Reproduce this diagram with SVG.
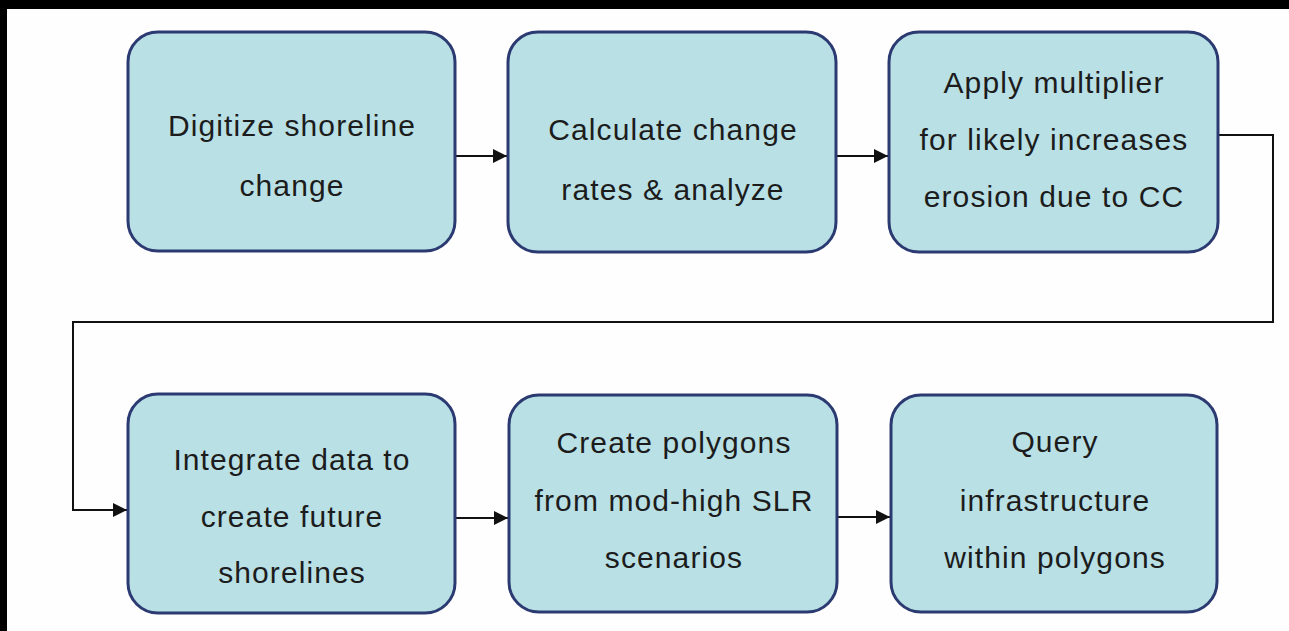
<svg xmlns="http://www.w3.org/2000/svg" width="1289" height="631" viewBox="0 0 1289 631">
<style>
.box{fill:#b9e0e5;stroke:#2c3a72;stroke-width:3}
.t{font-family:"Liberation Sans",Arial,sans-serif;font-size:30px;letter-spacing:1.1px;fill:#1c1c1c;text-anchor:middle}
.c{fill:none;stroke:#111;stroke-width:2}
</style>
<defs>
<marker id="arr" markerWidth="14" markerHeight="14" viewBox="0 0 14 14" refX="14" refY="7" orient="auto" markerUnits="userSpaceOnUse">
<path d="M0,0 L14,7 L0,14 Z" fill="#111"/>
</marker>
</defs>
<rect x="0" y="0" width="1289" height="631" fill="#fefefe"/>
<rect x="0" y="0" width="1289" height="9" fill="#000"/>
<rect x="0" y="0" width="7" height="631" fill="#000"/>
<g id="connectors">
<path class="c" d="M455,156 L507,156" marker-end="url(#arr)"/>
<path class="c" d="M836,156 L888,156" marker-end="url(#arr)"/>
<path class="c" d="M1218,135 L1273,135 L1273,322 L73,322 L73,510 L127,510" marker-end="url(#arr)"/>
<path class="c" d="M455,518 L508,518" marker-end="url(#arr)"/>
<path class="c" d="M837,517 L890,517" marker-end="url(#arr)"/>
</g>
<g id="n1">
<rect class="box" x="128" y="32" width="327" height="219" rx="30"/>
<text class="t" x="292" y="136">Digitize shoreline</text>
<text class="t" x="292" y="196">change</text>
</g>
<g id="n2">
<rect class="box" x="508" y="32" width="328" height="220" rx="30"/>
<text class="t" x="673" y="140">Calculate change</text>
<text class="t" x="673" y="200">rates &amp; analyze</text>
</g>
<g id="n3">
<rect class="box" x="889" y="32" width="329" height="220" rx="30"/>
<text class="t" x="1054" y="93">Apply multiplier</text>
<text class="t" x="1054" y="150">for likely increases</text>
<text class="t" x="1054" y="207">erosion due to CC</text>
</g>
<g id="n4">
<rect class="box" x="128" y="394" width="327" height="219" rx="30"/>
<text class="t" x="292" y="470">Integrate data to</text>
<text class="t" x="292" y="527">create future</text>
<text class="t" x="292" y="583">shorelines</text>
</g>
<g id="n5">
<rect class="box" x="509" y="395" width="328" height="217" rx="30"/>
<text class="t" x="674" y="453">Create polygons</text>
<text class="t" x="674" y="511">from mod-high SLR</text>
<text class="t" x="674" y="568">scenarios</text>
</g>
<g id="n6">
<rect class="box" x="891" y="395" width="326" height="217" rx="30"/>
<text class="t" x="1055" y="452">Query</text>
<text class="t" x="1055" y="511">infrastructure</text>
<text class="t" x="1055" y="568">within polygons</text>
</g>
</svg>
